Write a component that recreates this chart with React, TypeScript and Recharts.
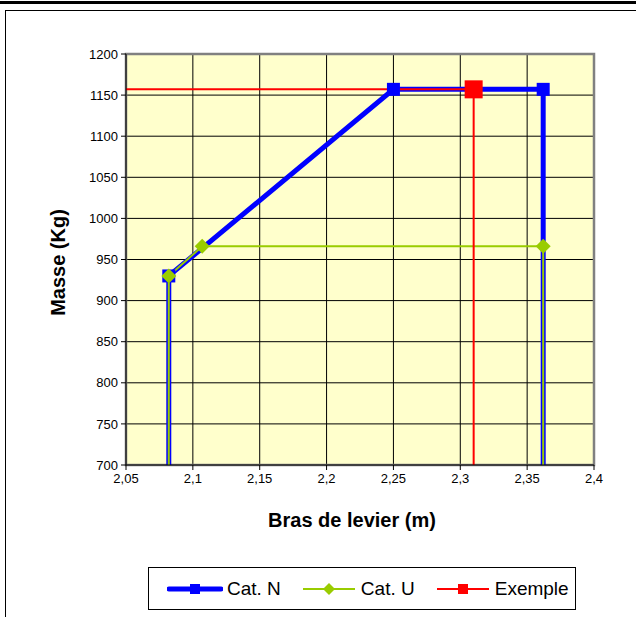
import React from 'react';
import { LineChart, Line, XAxis, YAxis, CartesianGrid, ReferenceArea, Legend } from 'recharts';

// Bras de levier (m) / Masse (Kg)
const catNX = [2.082, 2.082, 2.25, 2.362, 2.362];
const catNY = [0, 930, 1157, 1157, 0];
const catUX = [2.082, 2.082, 2.107, 2.362, 2.362];
const catUY = [0, 930, 966, 966, 0];
const exempleX = [2.0, 2.31, 2.31];
const exempleY = [1157, 1157, 0];

const xTicks = [2.05, 2.1, 2.15, 2.2, 2.25, 2.3, 2.35, 2.4];
const yTicks = [700, 750, 800, 850, 900, 950, 1000, 1050, 1100, 1150, 1200];

const X_MIN = 2.05;
const X_MAX = 2.4;
const Y_MIN = 700;
const Y_MAX = 1200;

const FONT = '"Liberation Sans", Arial, sans-serif';

const toPoints = (xs: number[], ys: number[]) => xs.map((x, i) => ({ x, y: ys[i] }));

const catN = toPoints(catNX, catNY);
const catU = toPoints(catUX, catUY);
const exemple = toPoints(exempleX, exempleY);

const inRange = (p: { x: number; y: number }) =>
  p && p.x >= X_MIN && p.x <= X_MAX && p.y >= Y_MIN && p.y <= Y_MAX;

function SquareDot(props: any) {
  const { cx, cy, payload, index, size, color } = props;
  if (!inRange(payload)) return <g key={`sq-${index}`} />;
  return (
    <rect key={`sq-${index}`} x={cx - size / 2} y={cy - size / 2} width={size} height={size} fill={color} />
  );
}

function DiamondDot(props: any) {
  const { cx, cy, payload, index, size, color } = props;
  if (!inRange(payload)) return <g key={`dm-${index}`} />;
  const h = size / 2;
  return (
    <polygon
      key={`dm-${index}`}
      points={`${cx},${cy - h} ${cx + h},${cy} ${cx},${cy + h} ${cx - h},${cy}`}
      fill={color}
    />
  );
}

const legendItems = [
  { name: 'Cat. N', color: '#0000FF', width: 5, marker: 'square' },
  { name: 'Cat. U', color: '#99CC00', width: 2, marker: 'diamond' },
  { name: 'Exemple', color: '#FF0000', width: 2, marker: 'square' },
];

function LegendBox() {
  return (
    <div
      style={{
        boxSizing: 'border-box',
        width: 428,
        height: 43,
        border: '1px solid #000',
        background: '#fff',
        display: 'flex',
        alignItems: 'center',
        paddingLeft: 18,
        gap: 20,
        fontFamily: FONT,
        fontSize: 19,
        color: '#000',
      }}
    >
      {legendItems.map((it) => (
        <div key={it.name} style={{ display: 'flex', alignItems: 'center', gap: 4 }}>
          <svg width={56} height={20}>
            <line
              x1={2}
              y1={10}
              x2={54}
              y2={10}
              stroke={it.color}
              strokeWidth={it.width}
              strokeLinecap={it.width > 3 ? 'round' : 'butt'}
            />
            {it.marker === 'square' ? (
              <rect x={23} y={5} width={10} height={10} fill={it.color} />
            ) : (
              <polygon points="28,4 34,10 28,16 22,10" fill={it.color} />
            )}
          </svg>
          <span>{it.name}</span>
        </div>
      ))}
    </div>
  );
}

function YTitle(props: any) {
  const { viewBox } = props;
  const x = viewBox.x + 42;
  const y = viewBox.y + viewBox.height / 2 + 3;
  return (
    <text
      x={x}
      y={y}
      transform={`rotate(-90 ${x} ${y})`}
      textAnchor="middle"
      dominantBaseline="central"
      fontFamily={FONT}
      fontWeight="bold"
      fontSize={20}
      fill="#000"
    >
      Masse (Kg)
    </text>
  );
}

function XTitle(props: any) {
  const { viewBox } = props;
  const x = viewBox.x + viewBox.width / 2 - 8;
  const y = viewBox.y + 55;
  return (
    <text x={x} y={y} textAnchor="middle" dominantBaseline="central" fontFamily={FONT} fontWeight="bold" fontSize={20} fill="#000">
      Bras de levier (m)
    </text>
  );
}

export default function App() {
  return (
    <div
      style={{
        position: 'absolute',
        left: 0,
        top: 0,
        width: 636,
        height: 617,
        overflow: 'hidden',
        background: '#fff',
        fontFamily: FONT,
      }}
    >
      <div style={{ position: 'absolute', left: 0, top: 1, width: 636, height: 3, background: '#000' }} />
      <div
        style={{
          position: 'absolute',
          left: 5,
          top: 10,
          width: 700,
          height: 700,
          border: '1px solid #000',
        }}
      />
      <div style={{ position: 'absolute', left: 0, top: 0 }}>
        <LineChart width={636} height={617} margin={{ top: 54, right: 42, bottom: 112, left: 16 }}>
          <CartesianGrid fill="#FFFFCC" stroke="#000" strokeWidth={1} />
          <ReferenceArea
            x1={X_MIN}
            x2={X_MAX}
            y1={Y_MIN}
            y2={Y_MAX}
            fill="none"
            fillOpacity={0}
            stroke="#808080"
            strokeWidth={2.5}
            ifOverflow="extendDomain"
          />
          <XAxis
            dataKey="x"
            type="number"
            domain={[X_MIN, X_MAX]}
            ticks={xTicks}
            allowDataOverflow
            height={40}
            tickSize={5}
            tickMargin={4}
            stroke="#000"
            tick={{ fontSize: 13, fill: '#000', fontFamily: FONT }}
            tickFormatter={(v: number) => String(v).replace('.', ',')}
            label={<XTitle />}
          />
          <YAxis
            type="number"
            domain={[Y_MIN, Y_MAX]}
            ticks={yTicks}
            allowDataOverflow
            width={110}
            tickSize={5}
            tickMargin={3}
            stroke="#000"
            tick={{ fontSize: 13, fill: '#000', fontFamily: FONT }}
            label={<YTitle />}
          />
          <Line
            data={catN}
            dataKey="y"
            name="Cat. N"
            stroke="#0000FF"
            strokeWidth={5}
            isAnimationActive={false}
            dot={(p: any) => <SquareDot key={`n-${p.index}`} {...p} size={13} color="#0000FF" />}
            activeDot={false}
          />
          <Line
            data={catU}
            dataKey="y"
            name="Cat. U"
            stroke="#99CC00"
            strokeWidth={2}
            isAnimationActive={false}
            dot={(p: any) => <DiamondDot key={`u-${p.index}`} {...p} size={15} color="#99CC00" />}
            activeDot={false}
          />
          <Line
            data={exemple}
            dataKey="y"
            name="Exemple"
            stroke="#FF0000"
            strokeWidth={2}
            isAnimationActive={false}
            dot={(p: any) => <SquareDot key={`e-${p.index}`} {...p} size={18} color="#FF0000" />}
            activeDot={false}
          />
          <Legend
            verticalAlign="middle"
            align="center"
            layout="horizontal"
            wrapperStyle={{ left: 148, top: 567, width: 428, height: 43 }}
            content={<LegendBox />}
          />
        </LineChart>
      </div>
    </div>
  );
}
